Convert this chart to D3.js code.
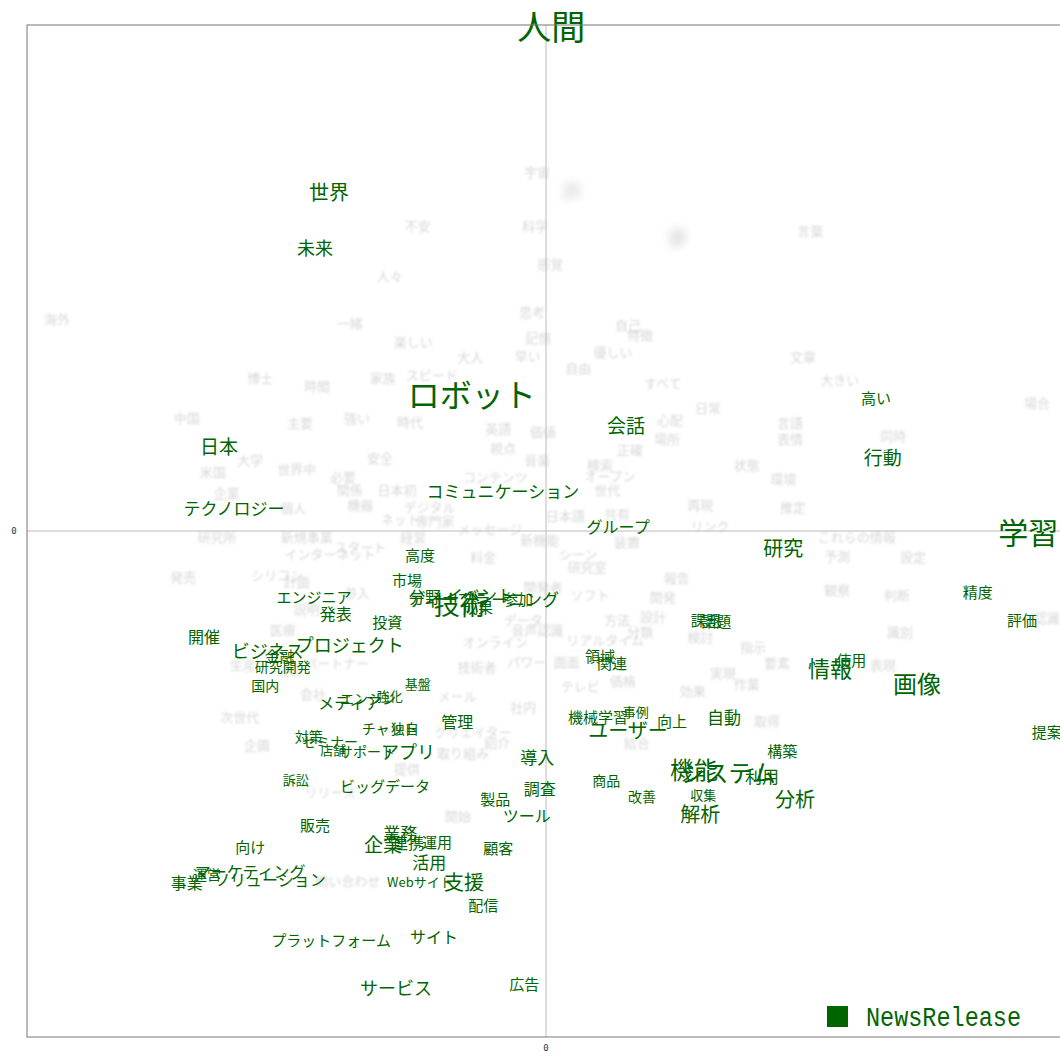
<!DOCTYPE html>
<html>
<head>
<meta charset="utf-8">
<script src="https://cdn.jsdelivr.net/npm/d3@7"></script>
<style>
  body { margin: 0; background: #fff; }
  svg { display: block; }
</style>
</head>
<body>
<div id="chart"></div>
<script>
// terms characteristic of the NewsRelease category: [word, x, y, size]
const termsHigh = [
  ["人間", 0.01, 1.0, 34], ["世界", -0.418, 0.670, 20], ["未来", -0.445, 0.561, 18],
  ["ロボット", -0.143, 0.273, 32], ["会話", 0.154, 0.211, 19], ["高い", 0.636, 0.263, 15],
  ["日本", -0.630, 0.168, 19], ["行動", 0.649, 0.148, 19], ["コミュニケーション", -0.083, 0.081, 17],
  ["テクノロジー", -0.601, 0.047, 17], ["グループ", 0.139, 0.010, 16], ["学習", 0.929, 0.0, 30],
  ["研究", 0.457, -0.032, 20], ["高度", -0.243, -0.047, 15], ["市場", -0.268, -0.095, 15],
  ["精度", 0.832, -0.119, 15], ["エンジニア", -0.447, -0.130, 15], ["分野", -0.233, -0.128, 16],
  ["イベント", -0.127, -0.125, 17], ["ディープラーニング", -0.120, -0.134, 17], ["技術", -0.166, -0.144, 26],
  ["成果", -0.131, -0.150, 15], ["参加", -0.054, -0.134, 15], ["発表", -0.405, -0.162, 16],
  ["投資", -0.306, -0.178, 15], ["開催", -0.659, -0.208, 16], ["課題", 0.308, -0.174, 15],
  ["話題", 0.328, -0.176, 15], ["評価", 0.917, -0.174, 15], ["ビジネス", -0.536, -0.235, 18],
  ["プロジェクト", -0.378, -0.223, 18], ["金融", -0.513, -0.247, 15], ["研究開発", -0.507, -0.267, 14],
  ["国内", -0.541, -0.304, 14], ["領域", 0.104, -0.247, 15], ["関連", 0.127, -0.259, 15],
  ["情報", 0.547, -0.269, 22], ["使用", 0.588, -0.253, 15], ["画像", 0.715, -0.300, 24],
  ["基盤", -0.247, -0.302, 13], ["強化", -0.301, -0.326, 13], ["メディア", -0.378, -0.338, 16],
  ["エンジン", -0.343, -0.330, 14], ["管理", -0.171, -0.375, 16], ["機械学習", 0.100, -0.366, 15],
  ["事例", 0.173, -0.356, 13], ["向上", 0.243, -0.374, 15], ["自動", 0.343, -0.366, 17],
  ["ユーザー", 0.158, -0.393, 20], ["チャット", -0.301, -0.389, 14], ["独自", -0.272, -0.389, 14],
  ["対策", -0.457, -0.405, 14], ["セミナー", -0.416, -0.415, 14], ["店舗", -0.410, -0.431, 13],
  ["サポート", -0.345, -0.435, 14], ["アプリ", -0.266, -0.435, 18], ["導入", -0.017, -0.445, 17],
  ["構築", 0.455, -0.433, 15], ["機能", 0.285, -0.470, 24], ["システム", 0.351, -0.476, 24],
  ["利用", 0.416, -0.484, 17], ["訴訟", -0.482, -0.492, 13], ["ビッグデータ", -0.310, -0.502, 15],
  ["調査", -0.012, -0.508, 16], ["商品", 0.116, -0.492, 14], ["改善", 0.185, -0.524, 14],
  ["収集", 0.303, -0.520, 13], ["分析", 0.480, -0.528, 20], ["製品", -0.098, -0.528, 15],
  ["解析", 0.297, -0.559, 20], ["ツール", -0.037, -0.561, 16], ["販売", -0.445, -0.581, 15],
  ["業務", -0.281, -0.595, 17], ["企業", -0.314, -0.617, 19], ["連携", -0.266, -0.615, 16],
  ["運用", -0.210, -0.613, 15], ["向け", -0.570, -0.623, 15], ["顧客", -0.092, -0.625, 15],
  ["活用", -0.225, -0.654, 17], ["マーケティング", -0.570, -0.672, 16], ["運営", -0.653, -0.678, 14],
  ["ソリューション", -0.532, -0.688, 16], ["事業", -0.692, -0.694, 16], ["Webサイト", -0.243, -0.692, 13],
  ["支援", -0.158, -0.692, 20], ["配信", -0.121, -0.739, 15], ["プラットフォーム", -0.414, -0.808, 15],
  ["サイト", -0.216, -0.800, 16], ["サービス", -0.289, -0.901, 18], ["広告", -0.042, -0.895, 15],
  ["提案", 0.965, -0.397, 15]
];

// low-scoring terms, drawn faded: [word, x, y]
const termsLow = [
  ["宇宙", -0.017, 0.711], ["不安", -0.247, 0.603], ["科学", -0.021, 0.603], ["言葉", 0.509, 0.593],
  ["感覚", 0.008, 0.528], ["人々", -0.301, 0.504], ["思考", -0.027, 0.433], ["海外", -0.942, 0.419],
  ["一緒", -0.378, 0.413], ["自己", 0.158, 0.409], ["記憶", -0.015, 0.383], ["特徴", 0.181, 0.389],
  ["楽しい", -0.256, 0.375], ["優しい", 0.129, 0.354], ["文章", 0.495, 0.344], ["早い", -0.035, 0.346],
  ["大人", -0.146, 0.344], ["自由", 0.062, 0.324], ["博士", -0.551, 0.304], ["家族", -0.314, 0.304],
  ["スピード", -0.220, 0.310], ["時間", -0.441, 0.287], ["すべて", 0.225, 0.294], ["大きい", 0.566, 0.300],
  ["場合", 0.946, 0.253], ["中国", -0.692, 0.225], ["主要", -0.474, 0.215], ["強い", -0.364, 0.225],
  ["時代", -0.262, 0.217], ["英語", -0.092, 0.202], ["価値", -0.006, 0.196], ["日常", 0.312, 0.245],
  ["心配", 0.239, 0.221], ["場所", 0.233, 0.182], ["表情", 0.470, 0.182], ["言語", 0.470, 0.215],
  ["視点", -0.083, 0.166], ["正確", 0.162, 0.162], ["同時", 0.669, 0.188], ["大学", -0.570, 0.142],
  ["安全", -0.320, 0.146], ["音楽", -0.017, 0.142], ["検索", 0.104, 0.132], ["状態", 0.387, 0.132],
  ["米国", -0.642, 0.117], ["世界中", -0.480, 0.123], ["環境", 0.457, 0.103], ["オープン", 0.123, 0.109],
  ["必要", -0.391, 0.107], ["コンテンツ", -0.098, 0.107], ["企業", -0.615, 0.077], ["関係", -0.378, 0.083],
  ["日本初", -0.287, 0.083], ["世代", 0.118, 0.083], ["デジタル", -0.224, 0.049], ["機器", -0.358, 0.053],
  ["個人", -0.487, 0.047], ["再現", 0.297, 0.053], ["推定", 0.476, 0.049], ["日本語", 0.037, 0.030],
  ["共有", 0.137, 0.034], ["ネット", -0.281, 0.024], ["専門家", -0.214, 0.020], ["メッセージ", -0.108, 0.004],
  ["リンク", 0.316, 0.010], ["研究所", -0.634, -0.010], ["新規事業", -0.461, -0.010], ["経営", -0.256, -0.010],
  ["新機能", -0.012, -0.016], ["装置", 0.156, -0.020], ["これらの情報", 0.599, -0.010], ["スタート", -0.358, -0.030],
  ["インターネット", -0.416, -0.045], ["料金", -0.121, -0.051], ["シーン", 0.062, -0.045], ["予測", 0.561, -0.049],
  ["設定", 0.707, -0.051], ["研究室", 0.079, -0.071], ["発売", -0.699, -0.089], ["シリコン", -0.518, -0.085],
  ["報告", 0.252, -0.091], ["開発者", -0.006, -0.109], ["計画", -0.480, -0.099], ["参入", -0.364, -0.121],
  ["観察", 0.561, -0.115], ["判断", 0.676, -0.125], ["開発", 0.225, -0.130], ["ソフト", 0.085, -0.125],
  ["説明", -0.461, -0.154], ["設計", 0.206, -0.168], ["方法", 0.137, -0.174], ["認識", 0.965, -0.170],
  ["データ", -0.044, -0.174], ["医療", -0.507, -0.194], ["音声認識", -0.017, -0.194], ["分類", 0.181, -0.198],
  ["識別", 0.682, -0.198], ["検討", 0.297, -0.208], ["オンライン", -0.098, -0.219], ["リアルタイム", 0.114, -0.215],
  ["指示", 0.399, -0.229], ["画面", 0.040, -0.257], ["パワー", -0.037, -0.257], ["要素", 0.445, -0.259],
  ["生産", -0.584, -0.263], ["パートナー", -0.403, -0.259], ["技術者", -0.133, -0.267], ["表現", 0.649, -0.263],
  ["実現", 0.341, -0.279], ["価格", 0.148, -0.296], ["テレビ", 0.066, -0.306], ["作業", 0.387, -0.302],
  ["注目", -0.493, -0.273], ["効果", 0.283, -0.316], ["会社", -0.449, -0.322], ["メール", -0.171, -0.326],
  ["社内", -0.044, -0.346], ["次世代", -0.590, -0.366], ["取得", 0.426, -0.375], ["クリエイター", -0.141, -0.397],
  ["紹介", -0.094, -0.417], ["結合", 0.175, -0.417], ["企画", -0.557, -0.421], ["取り組み", -0.160, -0.437],
  ["提供", -0.268, -0.470], ["リリース", -0.416, -0.514], ["開始", -0.170, -0.563], ["問い合わせ", -0.382, -0.690]
];

// very faint smudges
const termsBlur = [["声", 0.050, 0.670], ["夢", 0.254, 0.581]];

const xTicks = [0];
const yTicks = [0];
const legendLabel = "NewsRelease";

const W = 1060, H = 1056;
const margin = { top: 25, left: 27, bottom: 19, right: -5 };
const GREEN = "#006400";
const FONT = "'Noto Sans CJK JP', 'Noto Sans', sans-serif";

const svg = d3.select("#chart").append("svg")
  .attr("width", W)
  .attr("height", H);

const defs = svg.append("defs");
defs.append("filter").attr("id", "soft")
  .append("feGaussianBlur").attr("stdDeviation", 0.85);
defs.append("filter").attr("id", "smudge")
  .attr("x", "-50%").attr("y", "-50%").attr("width", "200%").attr("height", "200%")
  .append("feGaussianBlur").attr("stdDeviation", 4);

const x = d3.scaleLinear().domain([-1, 1]).range([margin.left, W - margin.right]);
const y = d3.scaleLinear().domain([-1, 1]).range([H - margin.bottom, margin.top]);

// zero lines
svg.append("line")
  .attr("x1", x(0)).attr("x2", x(0))
  .attr("y1", y(1)).attr("y2", y(-1))
  .attr("stroke", "#bbb");
svg.append("line")
  .attr("x1", x(-1)).attr("x2", x(1))
  .attr("y1", y(0)).attr("y2", y(0))
  .attr("stroke", "#bbb");

// faded words
svg.append("g").selectAll("text")
  .data(termsBlur)
  .join("text")
    .attr("x", d => x(d[1]))
    .attr("y", d => y(d[2]))
    .attr("text-anchor", "middle")
    .attr("dominant-baseline", "central")
    .style("font-family", FONT)
    .style("font-size", "20px")
    .attr("fill", "#ccc")
    .attr("filter", "url(#smudge)")
    .text(d => d[0]);

svg.append("g").selectAll("text")
  .data(termsLow)
  .join("text")
    .attr("x", d => x(d[1]))
    .attr("y", d => y(d[2]))
    .attr("text-anchor", "middle")
    .attr("dominant-baseline", "central")
    .style("font-family", FONT)
    .style("font-size", "13px")
    .attr("fill", "#bdbdbd")
    .attr("opacity", 0.6)
    .attr("filter", "url(#soft)")
    .text(d => d[0]);

// highlighted words
svg.append("g").selectAll("text")
  .data(termsHigh)
  .join("text")
    .attr("x", d => x(d[1]))
    .attr("y", d => y(d[2]))
    .attr("text-anchor", "middle")
    .attr("dominant-baseline", "central")
    .style("font-family", FONT)
    .style("font-size", d => d[3] + "px")
    .attr("fill", GREEN)
    .text(d => d[0]);

// frame
svg.append("rect")
  .attr("x", x(-1)).attr("y", y(1))
  .attr("width", x(1) - x(-1)).attr("height", y(-1) - y(1))
  .attr("fill", "none")
  .attr("stroke", "#777");

// tick labels
svg.append("g").selectAll("text")
  .data(xTicks)
  .join("text")
    .attr("x", d => x(d))
    .attr("y", y(-1) + 14)
    .attr("text-anchor", "middle")
    .style("font-family", "'DejaVu Sans Mono', monospace")
    .style("font-size", "9px")
    .attr("fill", "#333")
    .text(d => d);

svg.append("g").selectAll("text")
  .data(yTicks)
  .join("text")
    .attr("x", x(-1) - 13)
    .attr("y", d => y(d) + 3)
    .attr("text-anchor", "middle")
    .style("font-family", "'DejaVu Sans Mono', monospace")
    .style("font-size", "9px")
    .attr("fill", "#333")
    .text(d => d);

// legend
const lg = svg.append("g").attr("transform", `translate(827, 1006)`);
lg.append("rect")
  .attr("width", 21).attr("height", 21)
  .attr("fill", GREEN);
lg.append("text")
  .attr("x", 39).attr("y", 20)
  .attr("textLength", 155)
  .attr("lengthAdjust", "spacingAndGlyphs")
  .style("font-family", "'Liberation Mono', 'DejaVu Sans Mono', monospace")
  .style("font-size", "27px")
  .attr("fill", GREEN)
  .text(legendLabel);
</script>
</body>
</html>
